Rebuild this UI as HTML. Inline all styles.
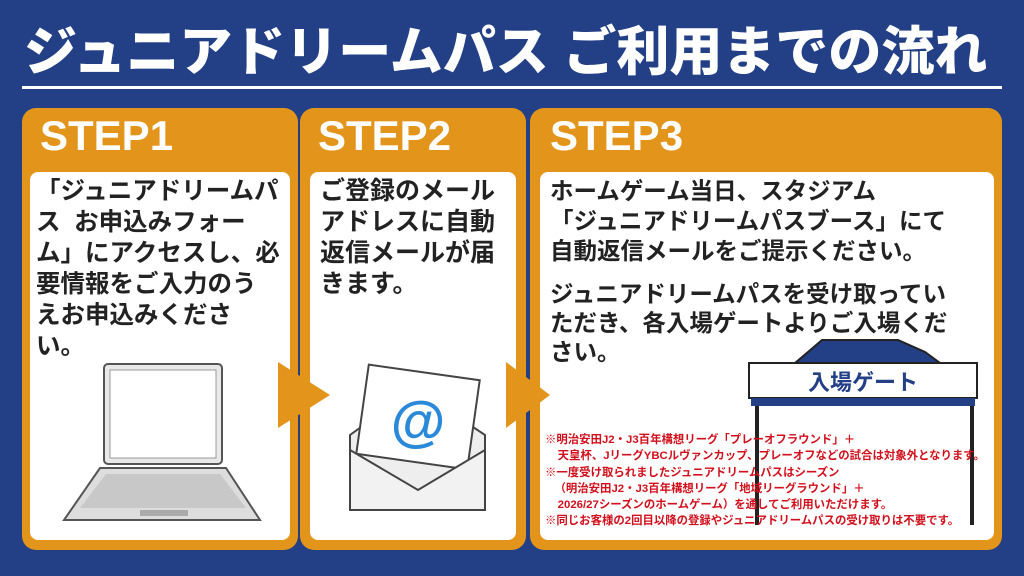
<!DOCTYPE html><html><head><meta charset="utf-8"><style>
body{margin:0;width:1024px;height:576px;overflow:hidden;background:#233f86;font-family:"Liberation Sans","Noto Sans CJK JP",sans-serif;position:relative}
.a{position:absolute}
.title{left:24px;top:10px;color:#fff;font-size:53px;font-weight:900;white-space:nowrap}
.line{left:22px;width:980px;top:86px;height:3px;background:#fff}
.pan{background:#e3951b;border-radius:14px}
.in{background:#fff;border-radius:8px}
.step{color:#fff;font-size:42px;font-weight:bold;top:112px}
.t{color:#222;font-weight:bold;white-space:nowrap}
.r{color:#d0101c;font-size:11.4px;font-weight:bold;line-height:16.3px;white-space:nowrap}
</style></head><body>
<div class="a title">ジュニアドリームパス ご利用までの流れ</div>
<div class="a line"></div>
<div class="a pan" style="left:22px;top:108px;width:276px;height:442px"></div>
<div class="a pan" style="left:300px;top:108px;width:226px;height:442px"></div>
<div class="a pan" style="left:530px;top:108px;width:472px;height:442px"></div>
<div class="a in" style="left:30px;top:172px;width:260px;height:368px"></div>
<div class="a in" style="left:310px;top:172px;width:206px;height:368px"></div>
<div class="a in" style="left:540px;top:172px;width:454px;height:368px"></div>
<div class="a step" style="left:40px">STEP1</div>
<div class="a step" style="left:318px">STEP2</div>
<div class="a step" style="left:550px">STEP3</div>
<div class="a t" style="left:36px;top:176px;font-size:24.5px;line-height:31px">「ジュニアドリームパ<br>ス&nbsp;&nbsp;お申込みフォー<br>ム」にアクセスし、必<br>要情報をご入力のう<br>えお申込みくださ<br>い。</div>
<div class="a t" style="left:320px;top:176px;font-size:25px;line-height:31px">ご登録のメール<br>アドレスに自動<br>返信メールが届<br>きます。</div>
<div class="a t" style="left:550px;top:176px;font-size:23.5px;line-height:30px">ホームゲーム当日、スタジアム<br>「ジュニアドリームパスブース」にて<br>自動返信メールをご提示ください。</div>
<div class="a t" style="left:550px;top:280px;font-size:23.5px;line-height:29px">ジュニアドリームパスを受け取ってい<br>ただき、各入場ゲートよりご入場くだ<br>さい。</div>
<svg class="a" style="left:0;top:0" width="1024" height="576">
<polygon points="278,362 330,395 278,428" fill="#e3951b"/>
<polygon points="506,362 550,395 506,428" fill="#e3951b"/>
<rect x="104" y="364" width="118" height="100" rx="4" fill="#e8e8e8" stroke="#555" stroke-width="2"/>
<rect x="110" y="370" width="106" height="88" fill="#fff" stroke="#999"/>
<polygon points="100,468 226,468 260,520 64,520" fill="#ddd" stroke="#555" stroke-width="2"/>
<polygon points="106,474 220,474 246,508 80,508" fill="#c8c8c8"/>
<rect x="140" y="510" width="48" height="6" fill="#aaa"/>
<polygon points="350,435 415,388 485,435 485,510 350,510" fill="#eee" stroke="#444" stroke-width="2"/>
<rect x="362" y="372" width="112" height="90" fill="#fff" stroke="#444" stroke-width="2" transform="rotate(8 418 417)"/>
<text x="418" y="440" font-size="56" font-weight="bold" fill="#2a8ad8" text-anchor="middle" font-family="Liberation Sans">@</text>
<polygon points="350,450 350,510 485,510 485,450 418,490" fill="#f2f2f2" stroke="#444" stroke-width="2"/>
<polygon points="822,340 898,340 925,352 940,363 795,363 808,352" fill="#233f86" stroke="#222" stroke-width="2"/>
<rect x="749" y="363" width="228" height="35" fill="#fff" stroke="#222" stroke-width="2"/>
<rect x="751" y="398" width="224" height="8" fill="#233f86"/>
<line x1="757" y1="406" x2="757" y2="525" stroke="#222" stroke-width="4"/>
<line x1="972" y1="406" x2="972" y2="525" stroke="#222" stroke-width="4"/>
<text x="863" y="390" font-size="22" font-weight="bold" fill="#233f86" text-anchor="middle" font-family="Liberation Sans,Noto Sans CJK JP,sans-serif">入場ゲート</text>
</svg>
<div class="a r" style="left:545px;top:432px">※明治安田J2・J3百年構想リーグ「プレーオフラウンド」＋<br>&nbsp;&nbsp;&nbsp;&nbsp;天皇杯、JリーグYBCルヴァンカップ、プレーオフなどの試合は対象外となります。<br>※一度受け取られましたジュニアドリームパスはシーズン<br>&nbsp;&nbsp;&nbsp;（明治安田J2・J3百年構想リーグ「地域リーグラウンド」＋<br>&nbsp;&nbsp;&nbsp;&nbsp;2026/27シーズンのホームゲーム）を通してご利用いただけます。<br>※同じお客様の2回目以降の登録やジュニアドリームパスの受け取りは不要です。</div>
</body></html>
